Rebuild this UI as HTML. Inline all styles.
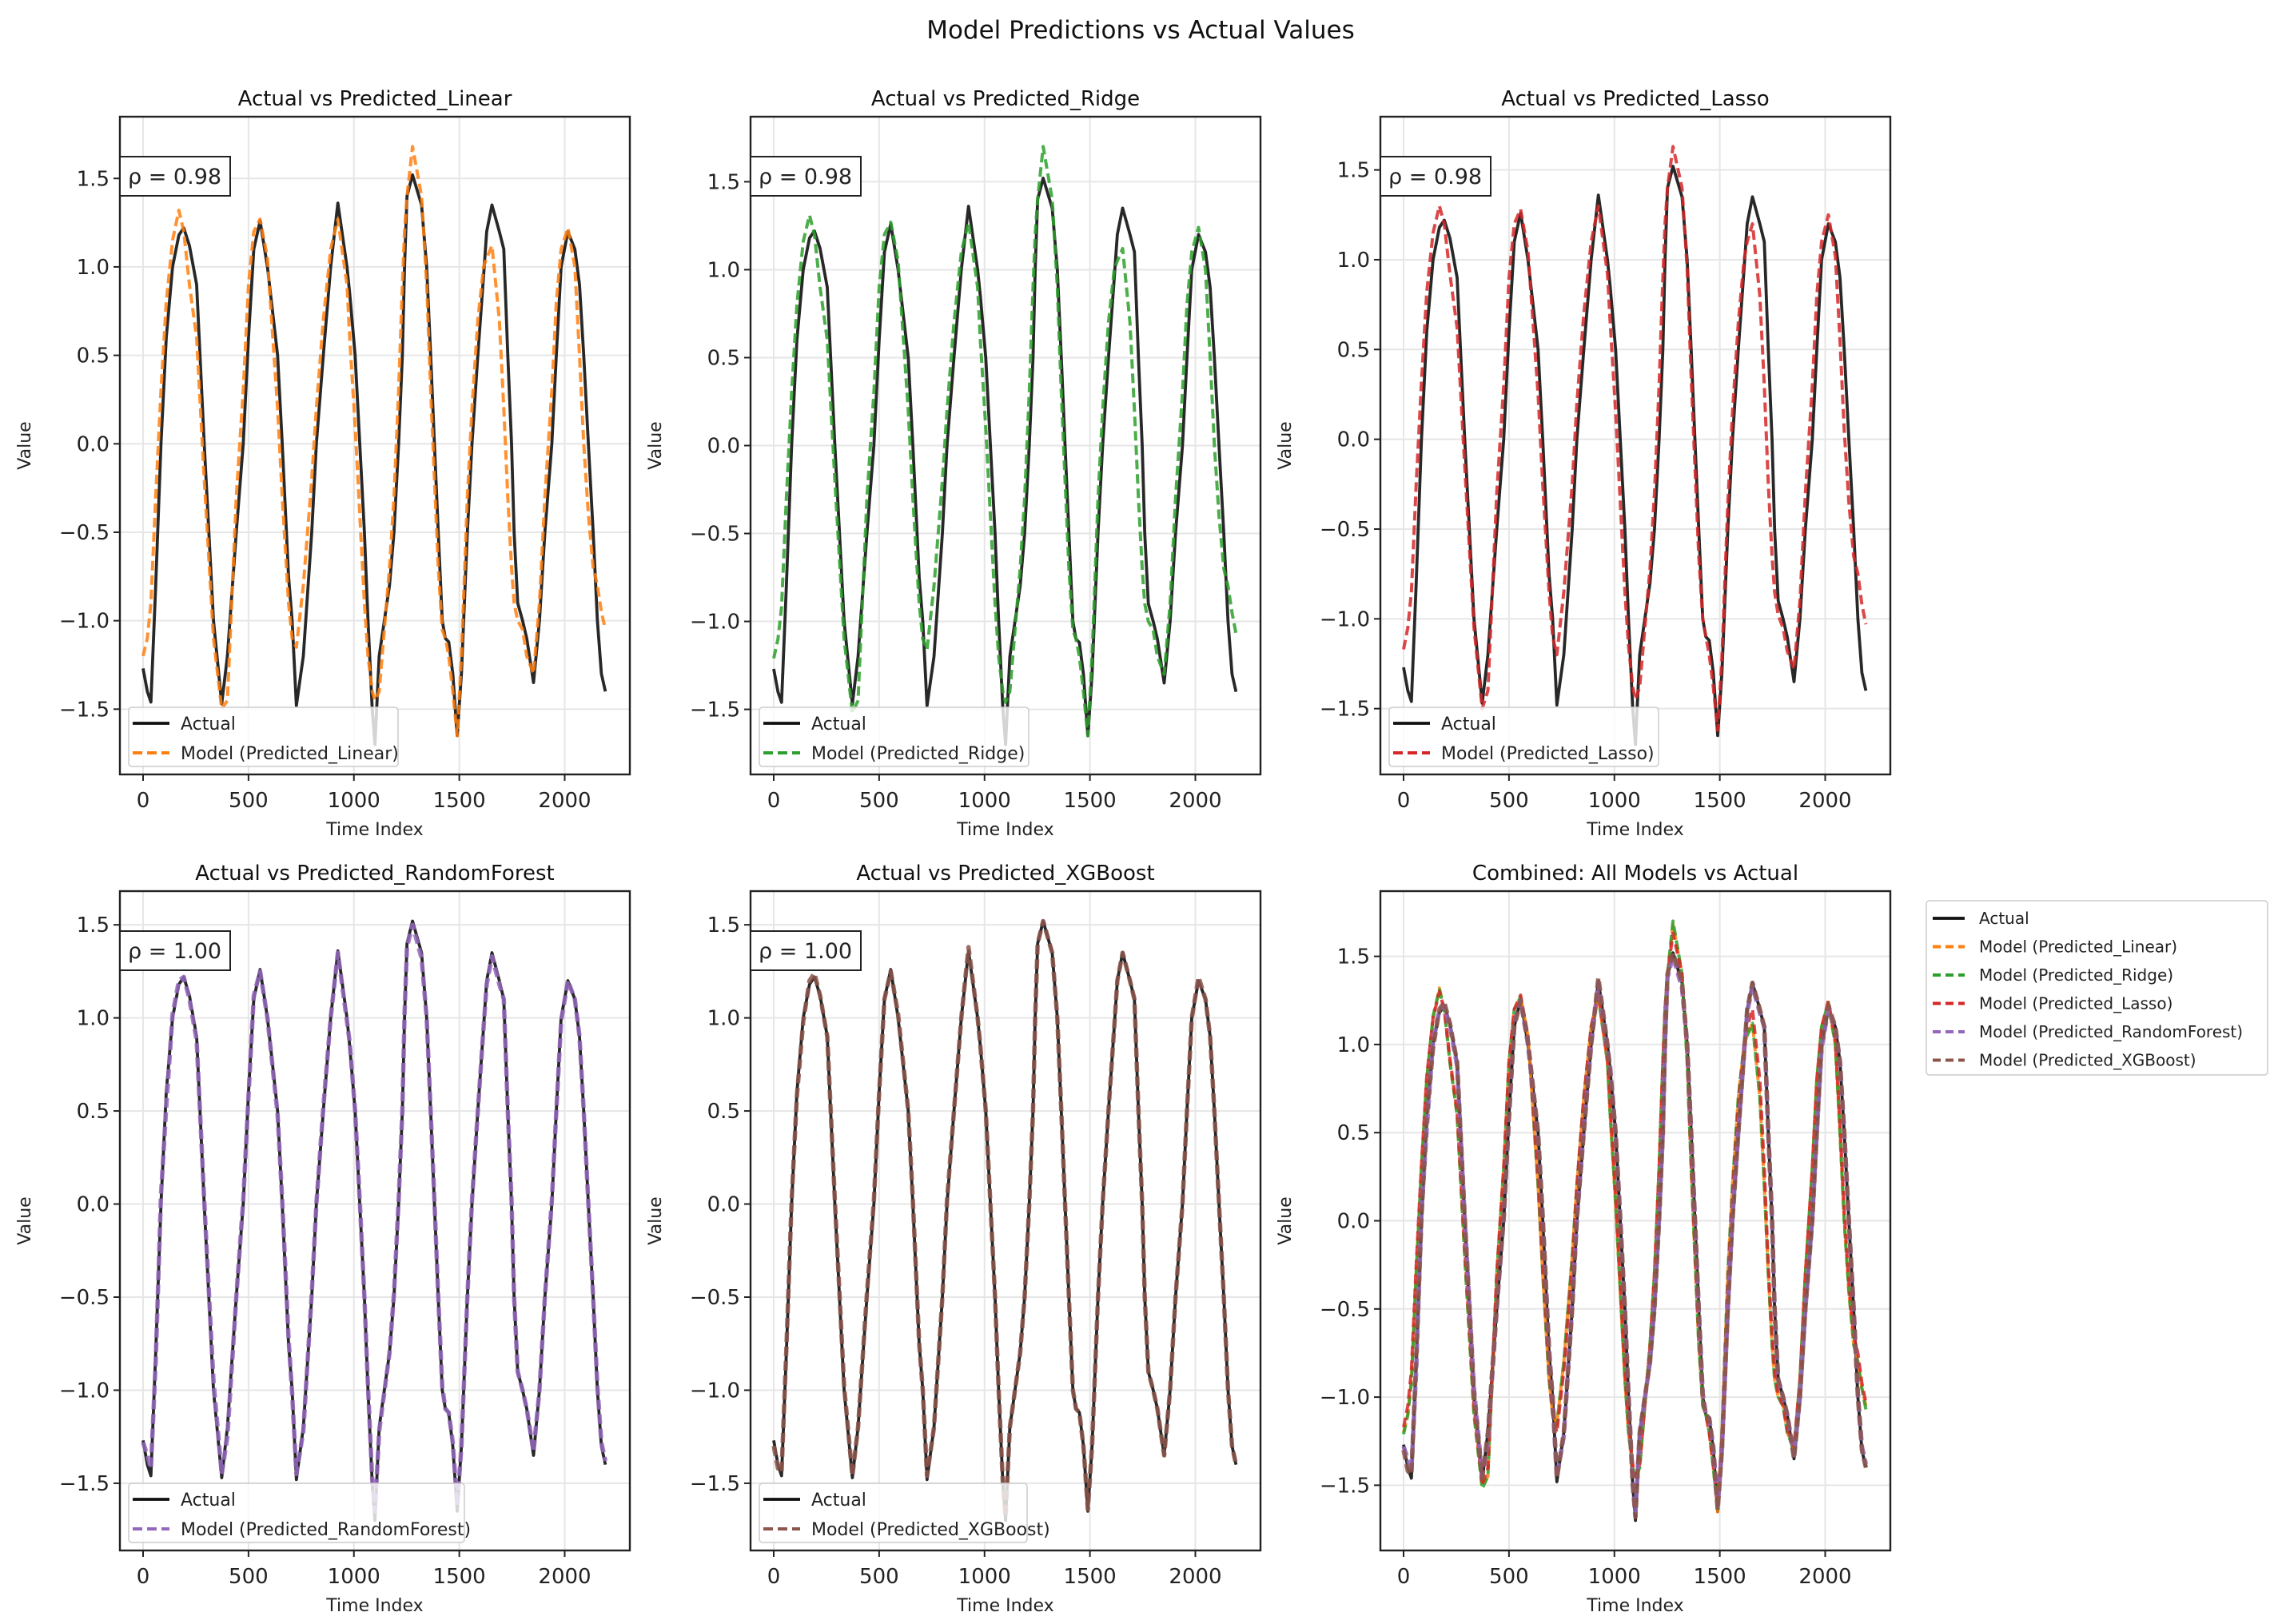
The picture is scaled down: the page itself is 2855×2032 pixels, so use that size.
<!DOCTYPE html>
<html><head><meta charset="utf-8"><style>
html,body{margin:0;padding:0;background:#fff;}
svg{display:block;font-family:"DejaVu Sans","Liberation Sans",sans-serif;}
</style></head><body>
<svg id="fig" width="2855" height="2032" viewBox="0 0 2855 2032">
<text x="1427" y="48" font-size="31" text-anchor="middle" fill="#111">Model Predictions vs Actual Values</text>
</svg>
<script>
const timeIndex=[0,20,37,60,85,110,140,170,193,220,254,290,334,373,400,442,475,500,525,555,590,638,660,690,707,727,760,800,822,855,890,924,967,980,1006,1028,1050,1067,1087,1100,1120,1169,1190,1212,1230,1240,1252,1278,1321,1345,1364,1382,1400,1419,1434,1450,1469,1490,1510,1538,1560,1588,1615,1630,1655,1690,1711,1730,1748,1760,1777,1800,1820,1852,1880,1906,1939,1960,1983,2015,2048,2070,2090,2112,2135,2155,2174,2193];
const actual=[-1.27,-1.4,-1.46,-0.8,0.0,0.6,1.0,1.18,1.22,1.12,0.9,0.0,-1.0,-1.47,-1.2,-0.5,0.0,0.6,1.1,1.26,1.0,0.5,0.0,-0.75,-1.0,-1.48,-1.2,-0.5,0.0,0.5,1.0,1.36,1.0,0.85,0.5,0.0,-0.5,-1.0,-1.5,-1.7,-1.2,-0.8,-0.5,0.0,0.5,1.0,1.4,1.52,1.35,1.0,0.5,0.0,-0.5,-1.0,-1.1,-1.12,-1.3,-1.65,-1.3,-0.5,0.0,0.5,0.95,1.2,1.35,1.2,1.1,0.5,0.0,-0.5,-0.9,-1.0,-1.1,-1.35,-1.0,-0.5,0.0,0.5,1.0,1.2,1.1,0.9,0.5,0.0,-0.5,-1.0,-1.3,-1.4];
const predLinear=[-1.2,-1.1,-0.9,-0.3,0.3,0.8,1.15,1.32,1.2,0.9,0.6,-0.2,-1.1,-1.5,-1.45,-0.3,0.3,0.9,1.2,1.27,1.05,0.2,-0.3,-0.9,-1.1,-1.15,-0.8,-0.2,0.2,0.7,1.1,1.27,0.9,0.6,0.1,-0.4,-0.9,-1.2,-1.4,-1.45,-1.4,-0.7,-0.3,0.3,0.9,1.2,1.4,1.68,1.4,0.9,0.3,-0.2,-0.7,-1.05,-1.1,-1.2,-1.4,-1.65,-1.2,-0.3,0.2,0.7,1.0,1.05,1.12,0.7,0.2,-0.3,-0.7,-0.9,-1.0,-1.05,-1.2,-1.3,-0.9,-0.3,0.3,0.8,1.1,1.22,1.0,0.5,0.0,-0.4,-0.7,-0.8,-0.95,-1.05];
const predRidge=[-1.21,-1.1,-0.92,-0.3,0.3,0.8,1.16,1.31,1.2,0.9,0.6,-0.2,-1.1,-1.52,-1.45,-0.3,0.3,0.9,1.2,1.27,1.05,0.2,-0.3,-0.9,-1.1,-1.16,-0.8,-0.2,0.2,0.7,1.1,1.27,0.9,0.6,0.1,-0.4,-0.9,-1.2,-1.4,-1.46,-1.4,-0.7,-0.3,0.3,0.9,1.2,1.4,1.7,1.4,0.9,0.3,-0.2,-0.7,-1.05,-1.1,-1.2,-1.4,-1.65,-1.2,-0.3,0.2,0.7,1.0,1.05,1.12,0.7,0.2,-0.3,-0.7,-0.9,-1.0,-1.05,-1.2,-1.3,-0.9,-0.3,0.3,0.8,1.1,1.24,1.0,0.5,0.0,-0.4,-0.7,-0.8,-0.95,-1.07];
const predLasso=[-1.17,-1.05,-0.85,-0.25,0.32,0.82,1.15,1.3,1.2,0.92,0.62,-0.15,-1.05,-1.5,-1.4,-0.3,0.3,0.9,1.2,1.28,1.05,0.25,-0.25,-0.85,-1.1,-1.2,-0.85,-0.25,0.2,0.7,1.1,1.3,0.92,0.65,0.15,-0.35,-0.85,-1.15,-1.38,-1.45,-1.38,-0.72,-0.3,0.3,0.9,1.2,1.4,1.63,1.4,0.95,0.35,-0.15,-0.65,-1.0,-1.1,-1.2,-1.38,-1.62,-1.22,-0.35,0.15,0.65,1.0,1.1,1.2,0.8,0.3,-0.25,-0.65,-0.85,-0.98,-1.05,-1.18,-1.28,-0.9,-0.3,0.3,0.8,1.1,1.25,1.02,0.55,0.05,-0.35,-0.65,-0.75,-0.92,-1.03];
const predRandomForest=[-1.28,-1.35,-1.42,-0.85,0.05,0.52,1.02,1.2,1.22,1.1,0.88,0.02,-0.95,-1.45,-1.25,-0.5,0.02,0.58,1.12,1.25,1.0,0.48,0.02,-0.72,-1.02,-1.45,-1.22,-0.48,0.0,0.52,1.0,1.35,0.98,0.87,0.5,0.02,-0.5,-0.98,-1.48,-1.65,-1.22,-0.8,-0.48,0.02,0.5,1.02,1.38,1.5,1.32,1.0,0.5,0.02,-0.5,-0.98,-1.1,-1.12,-1.28,-1.62,-1.3,-0.5,0.02,0.5,0.95,1.18,1.33,1.18,1.1,0.5,0.02,-0.5,-0.9,-1.0,-1.1,-1.33,-1.0,-0.5,0.02,0.5,0.98,1.2,1.1,0.9,0.5,0.0,-0.5,-0.98,-1.28,-1.38];
const predXGBoost=[-1.3,-1.42,-1.44,-0.78,0.02,0.58,0.98,1.2,1.24,1.12,0.9,0.02,-0.98,-1.46,-1.2,-0.48,0.02,0.6,1.1,1.25,1.02,0.5,0.02,-0.75,-1.0,-1.46,-1.2,-0.5,0.02,0.5,1.0,1.38,1.0,0.85,0.5,0.0,-0.5,-1.0,-1.5,-1.68,-1.2,-0.8,-0.5,0.0,0.5,1.0,1.4,1.52,1.35,1.0,0.5,0.0,-0.5,-1.0,-1.1,-1.12,-1.3,-1.64,-1.3,-0.5,0.0,0.5,0.95,1.2,1.35,1.2,1.1,0.5,0.0,-0.5,-0.9,-1.0,-1.1,-1.35,-1.0,-0.5,0.0,0.5,1.0,1.22,1.1,0.9,0.5,0.0,-0.5,-1.0,-1.3,-1.4];
const modelNames=["Predicted_Linear","Predicted_Ridge","Predicted_Lasso","Predicted_RandomForest","Predicted_XGBoost"];
const modelSeries=[predLinear,predRidge,predLasso,predRandomForest,predXGBoost];
const modelColors=["#ff7f0e","#2ca02c","#d62728","#9467bd","#8c564b"];
const modelWidths=[4,4,4,5.5,5.5];
const rhoLabels=["0.98","0.98","0.98","1.00","1.00"];
const xTicks=[0,500,1000,1500,2000];
const yTicks=[-1.5,-1.0,-0.5,0.0,0.5,1.0,1.5];

const NS="http://www.w3.org/2000/svg";
const fig=document.getElementById('fig');
function mk(tag,attrs,parent){const e=document.createElementNS(NS,tag);for(const k in attrs)e.setAttribute(k,attrs[k]);(parent||fig).appendChild(e);return e;}
const cols=[150,939,1727], rows=[[146,969],[1115,1940]], W=638;
const panels=[];
for(let i=0;i<6;i++){const r=Math.floor(i/3),c=i%3;panels.push({l:cols[c],r:cols[c]+W,t:rows[r][0],b:rows[r][1]});}

function drawPanel(p,idx,seriesIdx,title){
  const g=mk('g',{});
  
  
  const all=[actual].concat(seriesIdx.map(s=>modelSeries[s]));
  let mn=Infinity,mx=-Infinity;all.forEach(a=>a.forEach(v=>{mn=Math.min(mn,v);mx=Math.max(mx,v);}));
  const pad=(mx-mn)*0.05;const y0=mn-pad,y1=mx+pad;
  const xmn=timeIndex[0],xmx=2199,xp=(xmx-xmn)*0.05;
  const X=v=>p.l+(v-(xmn-xp))/((xmx+xp)-(xmn-xp))*(p.r-p.l);
  const Y=v=>p.b-(v-y0)/(y1-y0)*(p.b-p.t);
  xTicks.forEach(t=>{const l=mk('line',{x1:X(t),x2:X(t),y1:p.t,y2:p.b,stroke:'#e6e6e6','stroke-width':2},g);});
  yTicks.forEach(t=>{const l=mk('line',{x1:p.l,x2:p.r,y1:Y(t),y2:Y(t),stroke:'#e6e6e6','stroke-width':2},g);});
  const cid='clip'+idx;const cp=mk('clipPath',{id:cid},g);mk('rect',{x:p.l,y:p.t,width:p.r-p.l,height:p.b-p.t},cp);
  const lg=mk('g',{'clip-path':'url(#'+cid+')'},g);
  const pts=a=>a.map((v,i)=>X(timeIndex[i]).toFixed(1)+','+Y(v).toFixed(1)).join(' ');
  const al=mk('polyline',{points:pts(actual),fill:'none',stroke:'#111','stroke-width':3.8,'stroke-opacity':0.9,'stroke-linejoin':'round'},lg);
  
  seriesIdx.forEach(s=>{const pl=mk('polyline',{points:pts(modelSeries[s]),fill:'none',stroke:modelColors[s],'stroke-width':modelWidths[s],'stroke-opacity':0.85,'stroke-dasharray':'12,6','stroke-linejoin':'round'},lg);
    });
  const fr=mk('rect',{x:p.l,y:p.t,width:p.r-p.l,height:p.b-p.t,fill:'none',stroke:'#222','stroke-width':2.4},g);
  
  xTicks.forEach(t=>{mk('line',{x1:X(t),x2:X(t),y1:p.b,y2:p.b+8,stroke:'#222','stroke-width':2},g);
    const tx=mk('text',{x:X(t),y:p.b+41,'font-size':26,'text-anchor':'middle',fill:'#222'},g);tx.textContent=t;
    });
  yTicks.forEach(t=>{mk('line',{x1:p.l-8,x2:p.l,y1:Y(t),y2:Y(t),stroke:'#222','stroke-width':2},g);
    const tx=mk('text',{x:p.l-13,y:Y(t)+9,'font-size':26,'text-anchor':'end',fill:'#222'},g);tx.textContent=t.toFixed(1).replace('-','\u2212');
    });
  const xl=mk('text',{x:(p.l+p.r)/2,y:p.b+76,'font-size':22,'text-anchor':'middle',fill:'#222'},g);xl.textContent='Time Index';
  
  const cy=(p.t+p.b)/2;
  const yl=mk('text',{x:p.l-112,y:cy,'font-size':22,'text-anchor':'middle',fill:'#222',transform:'rotate(-90 '+(p.l-112)+' '+cy+')'},g);yl.textContent='Value';
  
  const tt=mk('text',{x:(p.l+p.r)/2,y:p.t-14,'font-size':26,'text-anchor':'middle',fill:'#111'},g);tt.textContent=title;
  
  return g;
}

for(let i=0;i<5;i++){
  const p=panels[i];
  const g=drawPanel(p,i,[i],'Actual vs '+modelNames[i]);
  const rb=mk('rect',{x:p.l,y:p.t+50,width:138,height:49,fill:'#fff',stroke:'#222','stroke-width':2},g);
  
  const rt=mk('text',{x:p.l+10,y:p.t+84,'font-size':27,fill:'#222'},g);rt.textContent='\u03c1 = '+rhoLabels[i];
  
  const lgd=mk('g',{},g);
  
  const lw=[337,337,337,420,335][i];
  mk('rect',{x:p.l+11,y:p.b-84,width:lw,height:74,rx:4,fill:'#fff','fill-opacity':0.8,stroke:'#ccc','stroke-width':1.5},lgd);
  mk('line',{x1:p.l+16,x2:p.l+62,y1:p.b-64,y2:p.b-64,stroke:'#111','stroke-width':3.8},lgd);
  const a=mk('text',{x:p.l+76,y:p.b-56,'font-size':22,fill:'#222'},lgd);a.textContent='Actual';
  
  mk('line',{x1:p.l+16,x2:p.l+62,y1:p.b-27,y2:p.b-27,stroke:modelColors[i],'stroke-width':4,'stroke-dasharray':'12,6'},lgd);
  const m=mk('text',{x:p.l+76,y:p.b-19,'font-size':22,fill:'#222'},lgd);m.textContent='Model ('+modelNames[i]+')';
  
}
drawPanel(panels[5],5,[0,1,2,3,4],'Combined: All Models vs Actual');
const cl=mk('g',{});

mk('rect',{x:2410,y:1127,width:427,height:218,rx:4,fill:'#fff',stroke:'#ccc','stroke-width':1.5},cl);
const labs=['Actual'].concat(modelNames.map(n=>'Model ('+n+')'));
labs.forEach((l,k)=>{const y=1149+k*35.5;
  if(k===0)mk('line',{x1:2418,x2:2458,y1:y,y2:y,stroke:'#111','stroke-width':3.8},cl);
  else mk('line',{x1:2418,x2:2458,y1:y,y2:y,stroke:modelColors[k-1],'stroke-width':4,'stroke-dasharray':'10,6'},cl);
  const t=mk('text',{x:2476,y:y+7,'font-size':20,fill:'#222'},cl);t.textContent=l;
  });
</script>
</body></html>
